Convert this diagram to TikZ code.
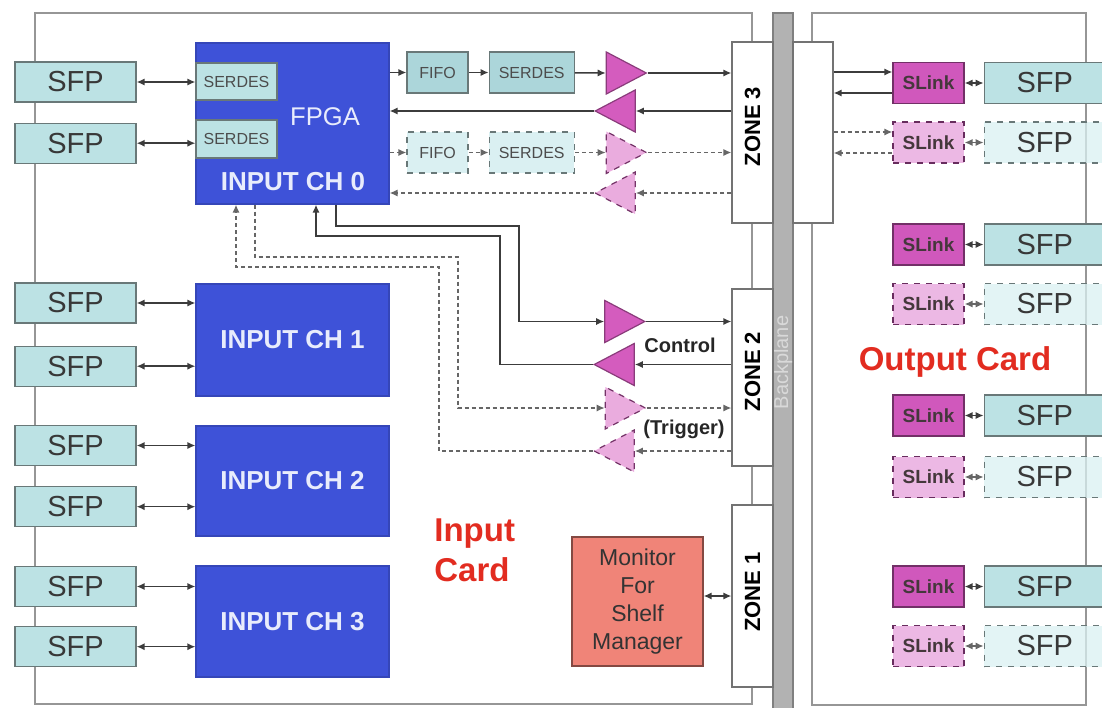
\documentclass[tikz,border=0pt]{standalone}
\usepackage{fontspec}
\setmainfont{Liberation Sans}
\usepackage{tikz}
\usetikzlibrary{positioning}
\usetikzlibrary{shapes.geometric}
\usetikzlibrary{arrows.meta}
\usepackage{xcolor}
\definecolor{sfpcyan}{RGB}{188,226,228}
\definecolor{sfplight}{RGB}{218,240,242}
\definecolor{fifocyan}{RGB}{172,214,218}
\definecolor{boxgrey}{RGB}{105,120,120}
\definecolor{chblue}{RGB}{62,82,216}
\definecolor{chtext}{RGB}{232,236,252}
\definecolor{ampmagenta}{RGB}{212,92,190}
\definecolor{amplight}{RGB}{234,172,222}
\definecolor{slinkmag}{RGB}{208,88,188}
\definecolor{slinklight}{RGB}{236,184,228}
\definecolor{monsalmon}{RGB}{240,132,120}
\definecolor{cardred}{RGB}{226,44,32}
\definecolor{framegrey}{RGB}{150,150,150}
\definecolor{planegrey}{RGB}{178,178,178}
\definecolor{wiregrey}{RGB}{60,60,60}
\tikzset{%
  frame/.style={draw=framegrey, line width=0.9pt},
  backplane/.style={draw=black!50, fill=planegrey, line width=0.6pt, minimum width=349.5pt, minimum height=10pt, inner sep=0pt, text=black!15, font=\fontsize{10}{12}\selectfont},
  zonebox/.style={draw=black!55, fill=white, line width=0.6pt, minimum width=20.5pt, inner sep=0pt},
  zonelabel/.style={rotate=90, inner sep=0pt, font=\fontsize{11}{13}\selectfont\bfseries},
  sfp/.style={draw=boxgrey, fill=sfpcyan, line width=0.6pt, minimum width=60.5pt, minimum height=20pt, inner sep=0pt, text=black!78, font=\fontsize{14.5}{16}\selectfont},
  sfpdashed/.style={sfp, dashed, fill=sfplight, fill opacity=0.75, text opacity=1},
  chan/.style={draw=chblue!85!black, fill=chblue, line width=0.6pt, minimum width=96.5pt, inner sep=0pt, text=chtext, font=\fontsize{13}{15}\selectfont\bfseries},
  fpgatext/.style={inner sep=0pt, text=chtext, font=\fontsize{12.8}{15}\selectfont},
  serdes/.style={draw=boxgrey, fill=sfpcyan, line width=0.6pt, minimum width=40.5pt, minimum height=18.5pt, inner sep=0pt, text=black!70, font=\fontsize{8}{9}\selectfont},
  fifo/.style={draw=boxgrey, fill=fifocyan, line width=0.6pt, minimum width=30.5pt, minimum height=20.5pt, inner sep=0pt, text=black!70, font=\fontsize{8}{9}\selectfont},
  fifodashed/.style={fifo, dashed, fill=sfplight},
  amp/.style={isosceles triangle, isosceles triangle stretches, minimum width=21pt, minimum height=20pt, inner sep=0pt, line width=0.6pt, draw=ampmagenta!65!black, fill=ampmagenta},
  ampout/.style={amp, shape border rotate=0},
  ampin/.style={amp, shape border rotate=180},
  ampdashed/.style={dashed, fill=amplight, draw=ampmagenta!55!black},
  slink/.style={draw=slinkmag!55!black, fill=slinkmag, line width=0.6pt, minimum width=35.5pt, minimum height=20.5pt, inner sep=0pt, text=black!85!magenta, font=\fontsize{9.5}{11}\selectfont\bfseries},
  slinkdashed/.style={slink, dashed, fill=slinklight, draw=slinkmag!50!black},
  monitor/.style={draw=monsalmon!55!black, fill=monsalmon, line width=0.6pt, minimum width=65.5pt, minimum height=64.5pt, inner sep=0pt, align=center, text=black!80, font=\fontsize{11.5}{14}\selectfont},
  sidelabel/.style={inner sep=0pt, text=black!85, font=\fontsize{10}{12}\selectfont\bfseries},
  cardlabel/.style={inner sep=0pt, text=cardred, font=\fontsize{16.5}{20}\selectfont\bfseries},
  wire/.style={draw=wiregrey, line width=0.75pt},
  dwire/.style={wire, draw=black!60, dash pattern=on 2pt off 1.5pt}
}
\begin{document}
\begin{tikzpicture}[x=0.5pt, y=-0.5pt, >={Latex[length=4pt,width=3.6pt]}]
  \useasboundingbox (0,0) rectangle (1102,707);

  % cards and backplane
  \draw[frame] (35,13) rectangle (752,704);
  \draw[frame] (812,13) rectangle (1086,705);
  \node[backplane, rotate=90] (bp) at (783,362.5) {Backplane};
  \node[zonebox, minimum height=90.5pt] (zone3) at (752.5,132.5) {};
  \node[zonebox, minimum height=88.5pt] (zone2) at (752.5,377.5) {};
  \node[zonebox, minimum height=91pt] (zone1) at (752.5,596) {};
  \node[zonebox, minimum width=20pt, minimum height=90.5pt] (conn3) at (813,132.5) {};
  \node[zonelabel] at ([yshift=3pt]zone3.center) {ZONE 3};
  \node[zonelabel] at ([yshift=3pt]zone2.center) {ZONE 2};
  \node[zonelabel] at ([yshift=2pt]zone1.center) {ZONE 1};

  % input channels
  \node[chan, minimum height=80.5pt] (fpga) at (292.5,123.5) {};
  \node[serdes] (serdesA) at (236.5,81.5) {SERDES};
  \node[serdes, minimum height=19pt] (serdesB) at (236.5,139) {SERDES};
  \node[fpgatext] at (325,117) {FPGA};
  \node[fpgatext, font=\fontsize{13}{15}\selectfont\bfseries] at (293,182) {INPUT CH 0};
  \node[chan, minimum height=56pt] (ch1) at (292.5,340) {INPUT CH 1};
  \node[chan, minimum height=55pt] (ch2) at (292.5,481) {INPUT CH 2};
  \node[chan, minimum height=55.5pt] (ch3) at (292.5,621.5) {INPUT CH 3};

  \node[sfp] (sfp1) at (75.5,82) {SFP};
  \node[sfp, below=10pt of sfp1] (sfp2) {SFP};
  \node[sfp] (sfp3) at (75.5,303) {SFP};
  \node[sfp, below=11pt of sfp3] (sfp4) {SFP};
  \node[sfp] (sfp5) at (75.5,445.5) {SFP};
  \node[sfp, below=10pt of sfp5] (sfp6) {SFP};
  \node[sfp] (sfp7) at (75.5,586.5) {SFP};
  \node[sfp, below=9.5pt of sfp7] (sfp8) {SFP};

  \draw[wire, <->] (sfp1) -- (sfp1 -| serdesA.west);
  \draw[wire, <->] (sfp2) -- (sfp2 -| serdesB.west);
  \draw[wire, <->] (sfp3) -- (sfp3 -| ch1.west);
  \draw[wire, <->] (sfp4) -- (sfp4 -| ch1.west);
  \draw[wire, <->] (sfp5) -- (sfp5 -| ch2.west);
  \draw[wire, <->] (sfp6) -- (sfp6 -| ch2.west);
  \draw[wire, <->] (sfp7) -- (sfp7 -| ch3.west);
  \draw[wire, <->] (sfp8) -- (sfp8 -| ch3.west);

  % data path to zone 3
  \node[fifo] (fifoA) at (437.5,72.5) {FIFO};
  \node[fifo, minimum width=42.5pt, right=10pt of fifoA] (serA) {SERDES};
  \node[fifodashed] (fifoB) at (437.5,152.5) {FIFO};
  \node[fifodashed, minimum width=42.5pt, right=10pt of fifoB] (serB) {SERDES};
  \node[ampout] (ampA) at (619,73) {};
  \node[ampin] (ampB) at (622.5,111) {};
  \node[ampout, ampdashed] (ampC) at (619,152.5) {};
  \node[ampin, ampdashed] (ampD) at (622.5,193) {};

  \draw[wire, ->] (fpga.east |- fifoA) -- (fifoA);
  \draw[wire, ->] (fifoA) -- (serA);
  \draw[wire, ->] (serA) -- (ampA.lower side);
  \draw[wire, ->] (ampA.apex) -- (zone3.west |- ampA.apex);
  \draw[wire, ->] (zone3.west |- ampB.apex) -- (ampB.lower side);
  \draw[wire, ->] (ampB.apex) -- (fpga.east |- ampB.apex);
  \draw[dwire, ->] (fpga.east |- fifoB) -- (fifoB);
  \draw[dwire, ->] (fifoB) -- (serB);
  \draw[dwire, ->] (serB) -- (ampC.lower side);
  \draw[dwire, ->] (ampC.apex) -- (zone3.west |- ampC.apex);
  \draw[dwire, ->] (zone3.west |- ampD.apex) -- (ampD.lower side);
  \draw[dwire, ->] (ampD.apex) -- (fpga.east |- ampD.apex);

  % control and trigger to zone 2
  \node[ampout] (ampE) at (617.5,321.5) {};
  \node[ampin] (ampF) at (621.5,364.5) {};
  \node[ampout, ampdashed] (ampG) at (618,408) {};
  \node[ampin, ampdashed] (ampH) at (621.5,451) {};
  \node[sidelabel] (ctrl) at (680,345) {Control};
  \node[sidelabel] (trig) at (684,429) {(Trigger)};

  \draw[wire, ->] ([xshift=21.75pt]fpga.south) |- (519,226) |- (ampE.lower side);
  \draw[wire, ->] (ampE.apex) -- (zone2.west |- ampE.apex);
  \draw[wire, ->] (zone2.west |- ampF.apex) -- (ampF.lower side);
  \draw[wire, ->] (ampF.apex) -| (500,236) -| ([xshift=11.75pt]fpga.south);
  \draw[dwire, ->] ([xshift=-18.75pt]fpga.south) |- (458,257) |- (ampG.lower side);
  \draw[dwire, ->] (ampG.apex) -- (zone2.west |- ampG.apex);
  \draw[dwire, ->] (zone2.west |- ampH.apex) -- (ampH.lower side);
  \draw[dwire, ->] (ampH.apex) -| (439,267) -| ([xshift=-28.25pt]fpga.south);

  % shelf manager
  \node[monitor] (mon) at (637.5,601.5) {Monitor\\For\\Shelf\\Manager};
  \draw[wire, <->] (mon.east |- zone1) -- (zone1.west);
  \node[cardlabel, align=left, anchor=west] at (434,550) {Input\\Card};

  % output card
  \node[slink] (slink1) at (928.5,83) {SLink};
  \node[slinkdashed] (slink2) at (928.5,142.5) {SLink};
  \node[slink] (slink3) at (928.5,244.5) {SLink};
  \node[slinkdashed] (slink4) at (928.5,304) {SLink};
  \node[slink] (slink5) at (928.5,415.5) {SLink};
  \node[slinkdashed] (slink6) at (928.5,477) {SLink};
  \node[slink] (slink7) at (928.5,586.5) {SLink};
  \node[slinkdashed] (slink8) at (928.5,646) {SLink};
  \node[sfp, minimum height=20.5pt, right=9.5pt of slink1] (osfp1) {SFP};
  \node[sfpdashed, minimum height=20.5pt, right=9.5pt of slink2] (osfp2) {SFP};
  \node[sfp, minimum height=20.5pt, right=9.5pt of slink3] (osfp3) {SFP};
  \node[sfpdashed, minimum height=20.5pt, right=9.5pt of slink4] (osfp4) {SFP};
  \node[sfp, minimum height=20.5pt, right=9.5pt of slink5] (osfp5) {SFP};
  \node[sfpdashed, minimum height=20.5pt, right=9.5pt of slink6] (osfp6) {SFP};
  \node[sfp, minimum height=20.5pt, right=9.5pt of slink7] (osfp7) {SFP};
  \node[sfpdashed, minimum height=20.5pt, right=9.5pt of slink8] (osfp8) {SFP};
  \draw[wire, <->] (slink1) -- (osfp1);
  \draw[dwire, <->] (slink2) -- (osfp2);
  \draw[wire, <->] (slink3) -- (osfp3);
  \draw[dwire, <->] (slink4) -- (osfp4);
  \draw[wire, <->] (slink5) -- (osfp5);
  \draw[dwire, <->] (slink6) -- (osfp6);
  \draw[wire, <->] (slink7) -- (osfp7);
  \draw[dwire, <->] (slink8) -- (osfp8);

  \coordinate (s1in) at ([yshift=5.5pt]slink1.west);
  \coordinate (s1out) at ([yshift=-5pt]slink1.west);
  \coordinate (s2in) at ([yshift=5.25pt]slink2.west);
  \coordinate (s2out) at ([yshift=-5.25pt]slink2.west);
  \draw[wire, ->] (conn3.east |- s1in) -- (s1in);
  \draw[wire, ->] (s1out) -- (conn3.east |- s1out);
  \draw[dwire, ->] (conn3.east |- s2in) -- (s2in);
  \draw[dwire, ->] (s2out) -- (conn3.east |- s2out);
  \node[cardlabel] at (955,362) {Output Card};
\end{tikzpicture}
\end{document}
